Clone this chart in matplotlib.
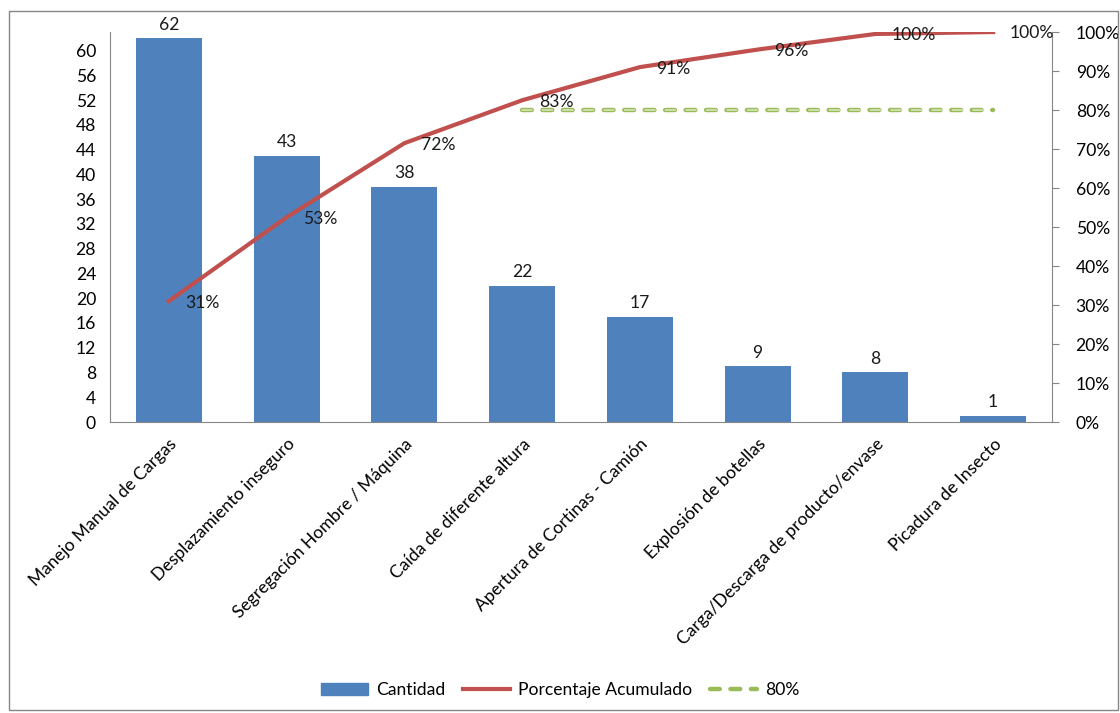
import matplotlib
matplotlib.use('Agg')
import matplotlib.pyplot as plt
from matplotlib.patches import Rectangle
from matplotlib.lines import Line2D
import numpy as np

plt.rcParams['font.family'] = ['Lato', 'DejaVu Sans']
plt.rcParams['font.size'] = 12.6

# data
categorias = ['Manejo Manual de Cargas', 'Desplazamiento inseguro',
              'Segregación Hombre / Máquina', 'Caída de diferente altura',
              'Apertura de Cortinas - Camión', 'Explosión de botellas',
              'Carga/Descarga de producto/envase', 'Picadura de Insecto']
cantidad = [62, 43, 38, 22, 17, 9, 8, 1]
acumulado = [31, 52.5, 71.5, 82.5, 91, 95.5, 99.5, 100]
acum_labels = ['31%', '53%', '72%', '83%', '91%', '96%', '100%', '100%']
linea_80 = [np.nan, np.nan, np.nan, 80, 80, 80, 80, 80]
left_ticks = list(range(0, 61, 4))
right_ticks = list(range(0, 101, 10))

blue = '#4F81BD'
red = '#C0504D'
green = '#9BBB59'
grey = '#868686'

fig = plt.figure(figsize=(11.2, 7.13), dpi=100)
ax = fig.add_axes([0.0982, 0.4081, 0.8411, 0.547])
x = np.arange(len(categorias))

bars = ax.bar(x, cantidad, width=0.56, color=blue, zorder=2)
for xi, v in zip(x, cantidad):
    ax.annotate(str(v), (xi, v), xytext=(0, 4), textcoords='offset points',
                ha='center', va='bottom', color='#1a1a1a')
ax.set_xlim(-0.5, len(categorias) - 0.5)
ax.set_ylim(0, 63)
ax.set_yticks(left_ticks)
ax.tick_params(axis='y', length=0, pad=10)
ax.tick_params(axis='x', length=0, pad=10)
ax.set_xticks(x)
ax.set_xticklabels(categorias, rotation=45, ha='right', rotation_mode='anchor')
for s in ['top', 'right']:
    ax.spines[s].set_visible(False)
ax.spines['left'].set_color(grey)
ax.spines['bottom'].set_color(grey)

ax2 = ax.twinx()
ax2.set_ylim(0, 100)
ax2.set_yticks(right_ticks)
ax2.set_yticklabels([f'{t}%' for t in right_ticks])
ax2.tick_params(axis='y', length=5, color=grey, pad=12)
for s in ['top', 'left', 'bottom']:
    ax2.spines[s].set_visible(False)
ax2.spines['right'].set_color(grey)

ax2.plot(x, linea_80, color=green, lw=3.2, dashes=(2.2, 2.4),
         dash_capstyle='round', zorder=3)
ax2.plot(x, linea_80, color='#D7E4BD', lw=1.2, dashes=(5.9, 6.4),
         dash_capstyle='round', zorder=3)
ax2.plot(x, acumulado, color=red, lw=3, zorder=4)
for xi, v, lab in zip(x, acumulado, acum_labels):
    ax2.annotate(lab, (xi, v), xytext=(12, -1), textcoords='offset points',
                 ha='left', va='center', color='#1a1a1a', zorder=5)

handles = [Rectangle((0, 0), 1, 1, color=blue),
           Line2D([], [], color=red, lw=3),
           Line2D([], [], color=green, lw=3.2, dashes=(2.2, 2.4),
                  dash_capstyle='round')]
fig.legend(handles, ['Cantidad', 'Porcentaje Acumulado', '80%'],
           loc='center', bbox_to_anchor=(0.5, 0.032), ncol=3, frameon=False,
           handlelength=2.7, handletextpad=0.45, columnspacing=1.0)

fig.patches.append(Rectangle((0.008, 0.004), 0.99, 0.98, transform=fig.transFigure,
                             fill=False, edgecolor=grey, lw=1))

plt.savefig('out.png', dpi=100)
